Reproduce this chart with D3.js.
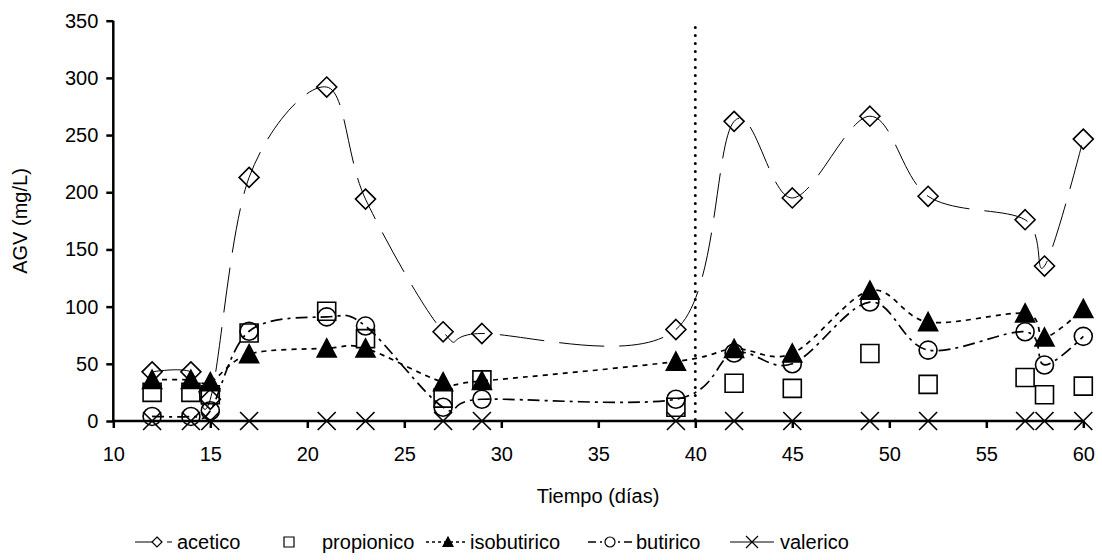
<!DOCTYPE html>
<html>
<head>
<meta charset="utf-8">
<script src="https://cdn.jsdelivr.net/npm/d3@7"></script>
<style>
  html, body { margin: 0; padding: 0; background: #fff; }
  svg { display: block; font-family: "Liberation Sans", Arial, sans-serif; }
</style>
</head>
<body>
<svg id="chart" width="1102" height="560"></svg>
<script>
// Sampling days and volatile fatty acid concentrations (mg/L)
const days = [12, 14, 15, 17, 21, 23, 27, 29, 39, 42, 45, 49, 52, 57, 58, 60];
const acetico     = [43, 43, 19, 213, 292, 194, 78, 76.5, 80, 262, 195, 266.5, 196.5, 176, 135.5, 246.5];
const propionico  = [25, 25, 23, 77, 96, 72, 20, 36, 12, 33, 28.5, 59, 32, 38, 23, 30.5];
const isobutirico = [36, 36, 34, 58.5, 63.5, 63.5, 34, 35, 52, 63, 59, 114, 86.5, 94, 73, 98];
const butirico    = [4, 4, 9, 78.5, 91, 83, 12, 19, 19, 59.5, 50, 104, 62, 78, 49, 74];
const valerico    = [0, 0, 0, 0, 0, 0, 0, 0, 0, 0, 0, 0, 0, 0, 0, 0];

const xTicks = [10, 15, 20, 25, 30, 35, 40, 45, 50, 55, 60];
const yTicks = [0, 50, 100, 150, 200, 250, 300, 350];
const phaseChangeDay = 40;

const FONT = 20;
const svg = d3.select("#chart");
const x = d3.scaleLinear().domain([10, 60]).range([113.3, 1083.3]);
const y = d3.scaleLinear().domain([0, 350]).range([421, 20.7]);

// marker shapes (centred on 0,0)
const shapes = {
  diamond: r => `M0,${-r}L${r},0L0,${r}L${-r},0Z`,
  square: r => `M${-r},${-r}H${r}V${r}H${-r}Z`,
  triangle: r => `M0,${-r}L${r},${r * 0.9}L${-r},${r * 0.9}Z`,
  circle: r => `M${-r},0A${r},${r} 0 1,0 ${r},0A${r},${r} 0 1,0 ${-r},0Z`,
  cross: r => `M${-r},${-r}L${r},${r}M${-r},${r}L${r},${-r}`
};

const series = [
  { name: "acetico", values: acetico, shape: "diamond", r: 10, fill: "none", line: true, dash: "45,15", width: 1, legDash: "24,8,5,20" },
  { name: "propionico", values: propionico, shape: "square", r: 9, fill: "none", line: false },
  { name: "isobutirico", values: isobutirico, shape: "triangle", r: 9.5, fill: "#000", line: true, dash: "5,5", width: 1.7, legDash: "3,3" },
  { name: "butirico", values: butirico, shape: "circle", r: 9, fill: "none", line: true, dash: "12,5,3,5", width: 1.7, legDash: "8,4,2,4" },
  { name: "valerico", values: valerico, shape: "cross", r: 9, fill: "none", line: true, dash: null, width: 1, legDash: null }
];

// phase separator
svg.append("line")
  .attr("x1", x(phaseChangeDay)).attr("x2", x(phaseChangeDay))
  .attr("y1", y(344)).attr("y2", y(0))
  .attr("stroke", "#000").attr("stroke-width", 3)
  .attr("stroke-linecap", "round").attr("stroke-dasharray", "0,8");

const lineGen = d3.line()
  .x(d => x(d[0])).y(d => y(d[1]))
  .curve(d3.curveCardinal.tension(0));

const gSeries = svg.append("g");
series.forEach(s => {
  const pts = days.map((d, i) => [d, s.values[i]]);
  if (s.line) {
    gSeries.append("path")
      .attr("d", lineGen(pts))
      .attr("fill", "none").attr("stroke", "#000")
      .attr("stroke-width", s.width)
      .attr("stroke-dasharray", s.dash);
  }
  gSeries.append("g").selectAll("path").data(pts).join("path")
    .attr("transform", d => `translate(${x(d[0])},${y(d[1])})`)
    .attr("d", shapes[s.shape](s.r))
    .attr("fill", s.fill).attr("stroke", "#000").attr("stroke-width", 1.6);
});

// axes
const xAxis = svg.append("g").attr("transform", `translate(0,${y(0)})`)
  .call(d3.axisBottom(x).tickValues(xTicks).tickSize(7).tickPadding(19));
const yAxis = svg.append("g").attr("transform", `translate(${x(10)},0)`)
  .call(d3.axisLeft(y).tickValues(yTicks).tickSize(7).tickPadding(8));
[xAxis, yAxis].forEach(g => {
  g.select(".domain").attr("stroke", "#000").attr("stroke-width", 2.5);
  g.selectAll(".tick line").attr("stroke", "#000").attr("stroke-width", 2.5);
  g.selectAll(".tick text").attr("fill", "#000").attr("font-size", FONT)
    .attr("font-family", "Liberation Sans, Arial, sans-serif");
});
xAxis.select(".domain").attr("d", `M${x(10)},0H${x(60)}`);
yAxis.select(".domain").attr("d", `M0,${y(350)}V${y(0)}`);

// axis titles
svg.append("text").attr("x", 598).attr("y", 503).attr("text-anchor", "middle")
  .attr("font-size", FONT).text("Tiempo (días)");
svg.append("text").attr("transform", "translate(27,221) rotate(-90)")
  .attr("text-anchor", "middle").attr("font-size", FONT).text("AGV (mg/L)");

// legend
const legendItems = [
  { s: series[0], cx: 157, x1: 135, x2: 177, tx: 177 },
  { s: series[1], cx: 289, tx: 322 },
  { s: series[2], cx: 448, x1: 426, x2: 466, tx: 470 },
  { s: series[3], cx: 610, x1: 588, x2: 632, tx: 636 },
  { s: series[4], cx: 752, x1: 730, x2: 774, tx: 780 }
];
const ly = 542;
const gLeg = svg.append("g");
legendItems.forEach(it => {
  const s = it.s;
  if (s.line) {
    gLeg.append("line")
      .attr("x1", it.x1).attr("x2", it.x2)
      .attr("y1", ly).attr("y2", ly)
      .attr("stroke", "#000").attr("stroke-width", s.width)
      .attr("stroke-dasharray", s.legDash);
  }
  gLeg.append("path")
    .attr("transform", `translate(${it.cx},${ly})`)
    .attr("d", shapes[s.shape](s.shape === "cross" ? 6 : 5))
    .attr("fill", s.fill === "none" ? "#fff" : s.fill)
    .attr("stroke", "#000").attr("stroke-width", 1.2);
  gLeg.append("text").attr("x", it.tx).attr("y", ly + 7)
    .attr("font-size", FONT).text(s.name);
});
</script>
</body>
</html>
